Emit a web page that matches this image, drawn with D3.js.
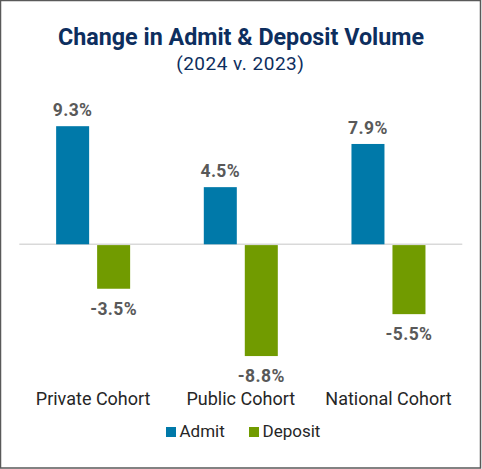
<!DOCTYPE html>
<html>
<head>
<meta charset="utf-8">
<script src="https://cdn.jsdelivr.net/npm/d3@7"></script>
<style>
  html, body { margin: 0; padding: 0; background: #fff; }
  svg { display: block; font-family: Roboto, "Noto Sans", sans-serif; }
</style>
</head>
<body>
<div id="chart"></div>
<script>
var cohorts = ['Private Cohort', 'Public Cohort', 'National Cohort']
var series = ['Admit', 'Deposit']
var admit = [9.3, 4.5, 7.9]
var deposit = [-3.5, -8.8, -5.5]
var colors = ['#0079a9', '#719b00']

var w = 482, h = 469

var svg = d3.select('#chart').append('svg')
    .attr('width', w)
    .attr('height', h)

// frame
svg.append('rect')
    .attr('x', 0.5).attr('y', 0.5)
    .attr('width', w - 2).attr('height', h - 1.5)
    .attr('fill', '#fff')
    .attr('stroke', '#595959')
    .attr('stroke-width', 1.5)

svg.append('text')
    .attr('x', 241).attr('y', 44.5)
    .attr('text-anchor', 'middle')
    .attr('font-size', 23.3)
    .attr('font-weight', 'bold')
    .attr('fill', '#0d2e5e')
    .text('Change in Admit & Deposit Volume')

svg.append('text')
    .attr('x', 240.3).attr('y', 69.5)
    .attr('text-anchor', 'middle')
    .attr('font-size', 19)
    .attr('letter-spacing', 0.5)
    .attr('fill', '#0d2e5e')
    .text('(2024 v. 2023)')

var x0 = d3.scaleBand()
    .domain(cohorts)
    .range([19.3, 462.3])

var bw = x0.bandwidth()
var x1 = d3.scaleBand()
    .domain(series)
    .range([bw / 2 - 37, bw / 2 + 37])
    .paddingInner(0.195)

var y = d3.scaleLinear()
    .domain([-10, 10])
    .range([244.3 + 127, 244.3 - 127])

var rows = cohorts.map(function(c, i) {
    return { cohort: c, values: [admit[i], deposit[i]] }
})

// zero line
svg.append('line')
    .attr('x1', x0.range()[0]).attr('x2', x0.range()[1])
    .attr('y1', y(0)).attr('y2', y(0))
    .attr('stroke', '#d9d9d9')
    .attr('stroke-width', 1.5)

var groups = svg.selectAll('.grp')
    .data(rows)
    .enter()
    .append('g')
    .attr('class', 'grp')
    .attr('transform', function(d) { return 'translate(' + x0(d.cohort) + ',0)' })

groups.selectAll('rect')
    .data(function(d) {
        return d.values.map(function(v, j) { return { s: series[j], v: v, j: j } })
    })
    .enter()
    .append('rect')
    .attr('x', function(d) { return x1(d.s) })
    .attr('width', x1.bandwidth())
    .attr('y', function(d) { return d.v >= 0 ? y(d.v) : y(0) + 0.8 })
    .attr('height', function(d) { return Math.abs(y(d.v) - y(0)) - (d.v < 0 ? 0.8 : 0) })
    .attr('fill', function(d) { return colors[d.j] })

groups.selectAll('.val')
    .data(function(d) {
        return d.values.map(function(v, j) { return { s: series[j], v: v } })
    })
    .enter()
    .append('text')
    .attr('class', 'val')
    .attr('x', function(d) { return x1(d.s) + x1.bandwidth() / 2 })
    .attr('y', function(d) { return d.v >= 0 ? y(d.v) - 10 : y(d.v) + 26 })
    .attr('text-anchor', 'middle')
    .attr('font-size', 17.5)
    .attr('letter-spacing', 0.4)
    .attr('font-weight', 'bold')
    .attr('fill', '#595959')
    .text(function(d) { return d3.format('.1f')(d.v).replace('\u2212', '-') + '%' })

// category labels
svg.selectAll('.cat')
    .data(cohorts)
    .enter()
    .append('text')
    .attr('class', 'cat')
    .attr('x', function(d) { return x0(d) + bw / 2 })
    .attr('y', 405)
    .attr('text-anchor', 'middle')
    .attr('font-size', 18)
    .attr('fill', '#262626')
    .text(function(d) { return d })

// legend
var legendX = [166, 249]
var leg = svg.selectAll('.leg')
    .data(series)
    .enter()
    .append('g')
    .attr('class', 'leg')
    .attr('transform', function(d, i) { return 'translate(' + legendX[i] + ',427)' })

leg.append('rect')
    .attr('width', 10).attr('height', 10)
    .attr('fill', function(d, i) { return colors[i] })

leg.append('text')
    .attr('x', 13.5).attr('y', 10)
    .attr('font-size', 17)
    .attr('fill', '#262626')
    .text(function(d) { return d })
</script>
</body>
</html>
